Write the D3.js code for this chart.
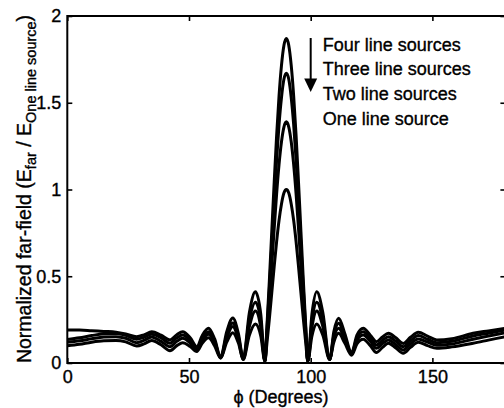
<!DOCTYPE html>
<html lang="en">
<head>
<meta charset="UTF-8">
<title>Normalized far-field</title>
<script src="https://cdn.jsdelivr.net/npm/d3@7"></script>
<style>
  body { margin: 0; background: #fff; }
  text { font-family: "Liberation Sans", Arial, sans-serif; fill: #000; stroke: #000; stroke-width: 0.35px; }
</style>
</head>
<body>
<div id="chart"></div>
<script>
// angle in degrees, shared by all four curves
var phi = [0, 5, 10, 15, 20, 24, 28.5, 31.5, 34.7, 38.5, 42.2, 45, 47.4, 50.5, 53.2, 55.5, 58, 60.5, 63,
  65.5, 68, 70.3, 72.3, 74.8, 77.3, 79.5, 81.2, 82, 83, 84, 85, 86, 87, 88, 89, 90,
  91, 92, 93, 94, 95, 96, 97, 98, 98.8, 100.5, 102.5, 105, 107.8, 109.5, 111.5, 114, 116.8,
  119, 121.6, 124.5, 127, 129.5, 131.9, 135, 138, 141, 144.2, 148, 151.8, 158, 166.7, 173, 180];

var fourSources = [0.19, 0.19, 0.186, 0.182, 0.178, 0.168, 0.152, 0.162, 0.18, 0.16, 0.133, 0.163, 0.18, 0.145, 0.094, 0.16, 0.2, 0.14, 0.035,
  0.18, 0.26, 0.17, 0.025, 0.29, 0.41, 0.28, 0.01, 0.205, 0.47, 0.755, 1.04, 1.31, 1.54, 1.715, 1.83, 1.87,
  1.83, 1.715, 1.54, 1.31, 1.04, 0.755, 0.47, 0.205, 0.01, 0.28, 0.41, 0.29, 0.02, 0.18, 0.258, 0.17, 0.06,
  0.16, 0.2, 0.16, 0.123, 0.15, 0.171, 0.145, 0.113, 0.148, 0.177, 0.155, 0.133, 0.14, 0.171, 0.185, 0.2];

var threeSources = [0.135, 0.145, 0.158, 0.168, 0.17, 0.16, 0.137, 0.148, 0.165, 0.145, 0.114, 0.145, 0.161, 0.13, 0.085, 0.145, 0.18, 0.128, 0.032,
  0.16, 0.23, 0.15, 0.025, 0.25, 0.35, 0.24, 0.01, 0.185, 0.42, 0.675, 0.93, 1.17, 1.375, 1.53, 1.635, 1.67,
  1.635, 1.53, 1.375, 1.17, 0.93, 0.675, 0.42, 0.185, 0.01, 0.24, 0.35, 0.25, 0.02, 0.16, 0.229, 0.15, 0.055,
  0.145, 0.18, 0.142, 0.104, 0.13, 0.152, 0.125, 0.094, 0.128, 0.158, 0.137, 0.117, 0.125, 0.156, 0.172, 0.19];

var twoSources = [0.12, 0.128, 0.14, 0.15, 0.152, 0.143, 0.117, 0.13, 0.15, 0.125, 0.094, 0.125, 0.142, 0.115, 0.075, 0.13, 0.165, 0.116, 0.03,
  0.145, 0.21, 0.135, 0.02, 0.21, 0.30, 0.205, 0.01, 0.155, 0.35, 0.56, 0.775, 0.975, 1.145, 1.275, 1.36, 1.39,
  1.36, 1.275, 1.145, 0.975, 0.775, 0.56, 0.35, 0.155, 0.01, 0.205, 0.30, 0.21, 0.02, 0.145, 0.2, 0.135, 0.05,
  0.13, 0.161, 0.125, 0.085, 0.112, 0.133, 0.105, 0.075, 0.11, 0.138, 0.12, 0.102, 0.11, 0.137, 0.155, 0.175];

var oneSource = [0.10, 0.108, 0.12, 0.128, 0.13, 0.122, 0.098, 0.11, 0.13, 0.105, 0.071, 0.1, 0.117, 0.095, 0.066, 0.115, 0.145, 0.1, 0.028,
  0.12, 0.175, 0.115, 0.02, 0.16, 0.225, 0.155, 0.01, 0.11, 0.252, 0.403, 0.556, 0.70, 0.823, 0.917, 0.98, 1.0,
  0.98, 0.917, 0.823, 0.70, 0.556, 0.403, 0.252, 0.11, 0.01, 0.155, 0.225, 0.16, 0.02, 0.12, 0.171, 0.115, 0.045,
  0.11, 0.137, 0.1, 0.06, 0.09, 0.114, 0.086, 0.056, 0.09, 0.119, 0.1, 0.085, 0.093, 0.114, 0.132, 0.152];

var legendLabels = ["Four line sources", "Three line sources", "Two line sources", "One line source"];
var xTicks = [0, 50, 100, 150];
var yTicks = [0, 0.5, 1, 1.5, 2];

var W = 504, H = 408;
var plotL = 67.3, plotR = 505.4, plotT = 16, plotB = 363;

var svg = d3.select("#chart").append("svg")
  .attr("width", W).attr("height", H);

var x = d3.scaleLinear().domain([0, 180]).range([plotL, plotR]);
var y = d3.scaleLinear().domain([0, 2]).range([plotB, plotT]);

// curves
var series = [fourSources, threeSources, twoSources, oneSource];
var line = d3.line()
  .x(function (d) { return x(d[0]); })
  .y(function (d) { return y(d[1]); })
  .curve(d3.curveMonotoneX);

svg.selectAll("path.curve")
  .data(series)
  .enter().append("path")
  .attr("class", "curve")
  .attr("d", function (s) { return line(s.map(function (v, i) { return [phi[i], v]; })); })
  .attr("fill", "none")
  .attr("stroke", "#000")
  .attr("stroke-width", 3)
  .attr("stroke-linejoin", "round");

// axes, ticks pointing inwards
function styleAxis(g) {
  g.select(".domain").remove();
  g.selectAll(".tick line").attr("stroke", "#000").attr("stroke-width", 1.6);
  g.selectAll("text").style("font-size", "18px").attr("fill", "#000");
}

svg.append("g")
  .attr("transform", "translate(0," + plotB + ")")
  .call(d3.axisBottom(x).tickValues(xTicks).tickSizeInner(-5).tickSizeOuter(0).tickPadding(7.7).tickFormat(d3.format("d")))
  .call(styleAxis);

svg.append("g")
  .attr("transform", "translate(0," + plotT + ")")
  .call(d3.axisTop(x).tickValues(xTicks).tickSizeInner(-5).tickSizeOuter(0).tickFormat(""))
  .call(styleAxis);

svg.append("g")
  .attr("transform", "translate(" + plotL + ",0)")
  .call(d3.axisLeft(y).tickValues(yTicks).tickSizeInner(-5).tickSizeOuter(0).tickPadding(6).tickFormat(function (d) { return String(d); }))
  .call(styleAxis);

svg.append("g")
  .attr("transform", "translate(" + plotR + ",0)")
  .call(d3.axisRight(y).tickValues(yTicks).tickSizeInner(-5).tickSizeOuter(0).tickFormat(""))
  .call(styleAxis);

// frame
svg.append("rect")
  .attr("x", plotL).attr("y", plotT)
  .attr("width", plotR - plotL).attr("height", plotB - plotT)
  .attr("fill", "none").attr("stroke", "#000").attr("stroke-width", 2);

// x label
svg.append("text")
  .attr("x", 281).attr("y", 403)
  .attr("text-anchor", "middle")
  .style("font-size", "18px")
  .text("\u03D5 (Degrees)");

// y label with subscripts
var yl = svg.append("text")
  .attr("transform", "translate(31,189) rotate(-90)")
  .attr("text-anchor", "middle")
  .style("font-size", "19.5px");
yl.append("tspan").text("Normalized far-field (E");
yl.append("tspan").attr("dy", 5).style("font-size", "14.5px").text("far");
yl.append("tspan").attr("dy", -5).text(" / E");
yl.append("tspan").attr("dy", 5).style("font-size", "14.5px").text("One line source");
yl.append("tspan").attr("dy", -5).text(")");

// legend arrow and labels
var ax = x(100);
svg.append("line")
  .attr("x1", ax).attr("x2", ax)
  .attr("y1", 38).attr("y2", 80)
  .attr("stroke", "#000").attr("stroke-width", 2);
svg.append("path")
  .attr("d", "M" + (ax - 6.5) + ",78.5 L" + (ax + 6.5) + ",78.5 L" + ax + ",92 Z")
  .attr("fill", "#000");

svg.selectAll("text.legend")
  .data(legendLabels)
  .enter().append("text")
  .attr("class", "legend")
  .attr("x", 322.7)
  .attr("y", function (d, i) { return 50.5 + i * 24.8; })
  .style("font-size", "18px")
  .text(function (d) { return d; });
</script>
</body>
</html>
